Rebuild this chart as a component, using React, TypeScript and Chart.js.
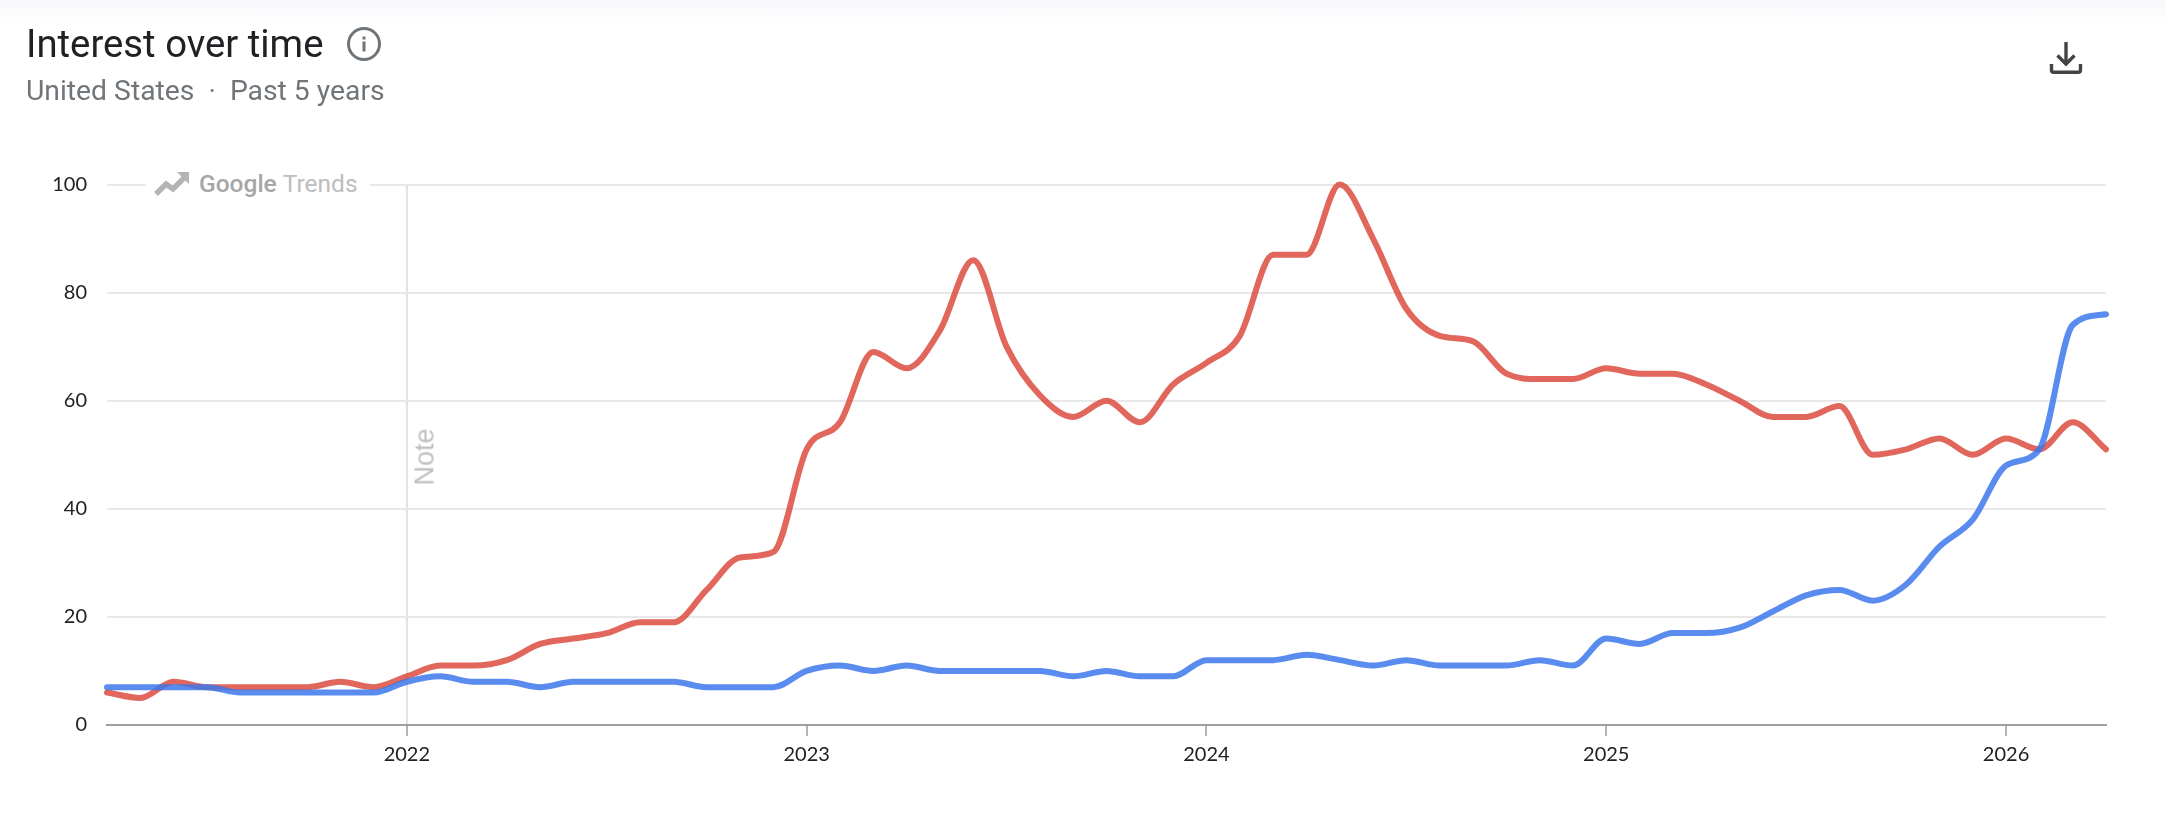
import React, { useEffect, useRef } from "react";
import { Chart, registerables } from "chart.js";

Chart.register(...registerables);

const months: string[] = [
  "2021-04","2021-05","2021-06","2021-07","2021-08","2021-09","2021-10","2021-11","2021-12",
  "2022-01","2022-02","2022-03","2022-04","2022-05","2022-06","2022-07","2022-08","2022-09","2022-10","2022-11","2022-12",
  "2023-01","2023-02","2023-03","2023-04","2023-05","2023-06","2023-07","2023-08","2023-09","2023-10","2023-11","2023-12",
  "2024-01","2024-02","2024-03","2024-04","2024-05","2024-06","2024-07","2024-08","2024-09","2024-10","2024-11","2024-12",
  "2025-01","2025-02","2025-03","2025-04","2025-05","2025-06","2025-07","2025-08","2025-09","2025-10","2025-11","2025-12",
  "2026-01","2026-02","2026-03","2026-04",
];

const blueValues: number[] = [
  7,7,7,7,6,6,6,6,6,
  8,9,8,8,7,8,8,8,8,7,7,7,
  10,11,10,11,10,10,10,10,9,10,9,9,
  12,12,12,13,12,11,12,11,11,11,12,11,
  16,15,17,17,18,21,24,25,23,26,33,38,
  48,51,74,76,
];

const redValues: number[] = [
  6,5,8,7,7,7,7,8,7,
  9,11,11,12,15,16,17,19,19,25,31,32,
  51,56,69,66,73,86,70,61,57,60,56,63,
  67,72,87,87,100,90,77,72,71,65,64,64,
  66,65,65,63,60,57,57,59,50,51,53,50,
  53,51,56,51,
];

const noteMonth = "2022-01";
const yearTickMonth = "-01";

const FONT = "Lato, Roboto, sans-serif";
const HEAD = "Roboto, sans-serif";

export default function App() {
  const ref = useRef<HTMLCanvasElement | null>(null);

  useEffect(() => {
    document.body.style.margin = "0";
    document.body.style.background = "#fff";
    const chart = new Chart(ref.current as HTMLCanvasElement, {
      type: "line",
      data: {
        labels: months,
        datasets: [
          {
            label: "Blue",
            data: blueValues,
            borderColor: "rgba(60,120,235,0.85)",
            borderWidth: 6,
            cubicInterpolationMode: "monotone",
            pointRadius: 0,
            borderCapStyle: "round",
            borderJoinStyle: "round",
            clip: false as any,
          },
          {
            label: "Red",
            data: redValues,
            borderColor: "rgba(219,68,55,0.82)",
            borderWidth: 6,
            cubicInterpolationMode: "monotone",
            pointRadius: 0,
            borderCapStyle: "round",
            borderJoinStyle: "round",
            clip: false as any,
          },
        ],
      },
      options: {
        animation: false,
        responsive: false,
        devicePixelRatio: 1,
        layout: { padding: { top: 184.5, right: 60, left: 0, bottom: 0 } },
        plugins: { legend: { display: false }, tooltip: { enabled: false } },
        scales: {
          x: {
            type: "category",
            offset: false,
            afterFit: (s: any) => { s.height = 91; },
            afterBuildTicks: (s: any) => {
              s.ticks = s.ticks.filter((t: any) => months[t.value].endsWith(yearTickMonth));
            },
            border: { display: true, color: "#a0a0a0", width: 2 },
            grid: {
              display: true,
              drawOnChartArea: true,
              drawTicks: true,
              tickLength: 11,
              lineWidth: 2,
              color: (c: any) => (c.tick && months[c.tick.value] === noteMonth ? "#e2e2e2" : "rgba(0,0,0,0)"),
              tickColor: "#b4b4b4",
            },
            ticks: {
              autoSkip: false,
              maxRotation: 0,
              padding: 7,
              color: "#202124",
              font: { family: FONT, size: 20 },
              callback: function (this: any, v: any) { return months[v].slice(0, 4); },
            },
          },
          y: {
            min: 0,
            max: 100,
            afterFit: (s: any) => { s.width = 107; },
            border: { display: false },
            grid: {
              drawTicks: false,
              lineWidth: 2,
              color: (c: any) => (c.tick && c.tick.value === 0 ? "#a0a0a0" : "#e8e8e8"),
            },
            ticks: {
              stepSize: 20,
              padding: 20,
              color: "#202124",
              font: { family: FONT, size: 20 },
            },
          },
        },
      },
    } as any);
    return () => chart.destroy();
  }, []);

  return (
    <div style={{ position: "absolute", left: 0, top: 0, width: 2166, height: 816, overflow: "hidden", background: "#fff", fontFamily: FONT }}>
      <div style={{ position: "absolute", left: 0, top: 0, width: 2166, height: 26, background: "linear-gradient(#f7f8fb, #ffffff)" }} />
      <canvas ref={ref} width={2166} height={816} style={{ position: "absolute", left: 0, top: 0, display: "block" }} />

      <div style={{ position: "absolute", left: 26, top: 22, fontFamily: HEAD, fontSize: 38.3, lineHeight: "44px", color: "#202124", whiteSpace: "nowrap", fontWeight: 400 }}>
        Interest over time
      </div>
      <svg style={{ position: "absolute", left: 346, top: 26 }} width="36" height="36" viewBox="0 0 36 36">
        <circle cx="18" cy="18" r="15.5" fill="none" stroke="#70757a" strokeWidth="3" />
        <rect x="16.5" y="15.5" width="3" height="10" fill="#70757a" />
        <rect x="16.5" y="10.5" width="3" height="3" fill="#70757a" />
      </svg>
      <div style={{ position: "absolute", left: 26, top: 73, fontFamily: HEAD, fontSize: 28.3, lineHeight: "36px", color: "#70757a", whiteSpace: "pre" }}>
        United States  ·  Past 5 years
      </div>
      <svg style={{ position: "absolute", left: 2048, top: 40 }} width="36" height="36" viewBox="0 0 36 36">
        <path d="M18 2 V23 M9.5 15.5 L18 24 L26.5 15.5" fill="none" stroke="#444" strokeWidth="3.4" />
        <path d="M3.5 24 V30 Q3.5 32.2 5.7 32.2 H30.3 Q32.5 32.2 32.5 30 V24" fill="none" stroke="#444" strokeWidth="3.4" />
      </svg>

      <div style={{ position: "absolute", left: 146, top: 166, width: 224, height: 34, background: "#fff", display: "flex", alignItems: "center", whiteSpace: "nowrap" }}>
        <svg style={{ marginLeft: 8, marginRight: 9, marginTop: 2 }} width="36" height="26" viewBox="0 0 36 26">
          <path d="M2 23 L12 13 L19 18 L31 6" fill="none" stroke="#b4b4b4" strokeWidth="5.5" />
          <path d="M23 1 H35 V13 Z" fill="#b4b4b4" />
        </svg>
        <span style={{ fontFamily: HEAD, fontSize: 24.5, color: "#a6a6a6", fontWeight: 500 }}>Google</span>
        <span style={{ fontFamily: HEAD, fontSize: 24.5, color: "#bdbdbd", marginLeft: 6 }}>Trends</span>
      </div>

      <div style={{ position: "absolute", left: 425, top: 457, fontFamily: "'Liberation Sans', Arial, sans-serif", fontSize: 27, color: "#bfbfbf", transform: "translate(-50%,-50%) rotate(-90deg)", whiteSpace: "nowrap" }}>
        Note
      </div>
    </div>
  );
}
